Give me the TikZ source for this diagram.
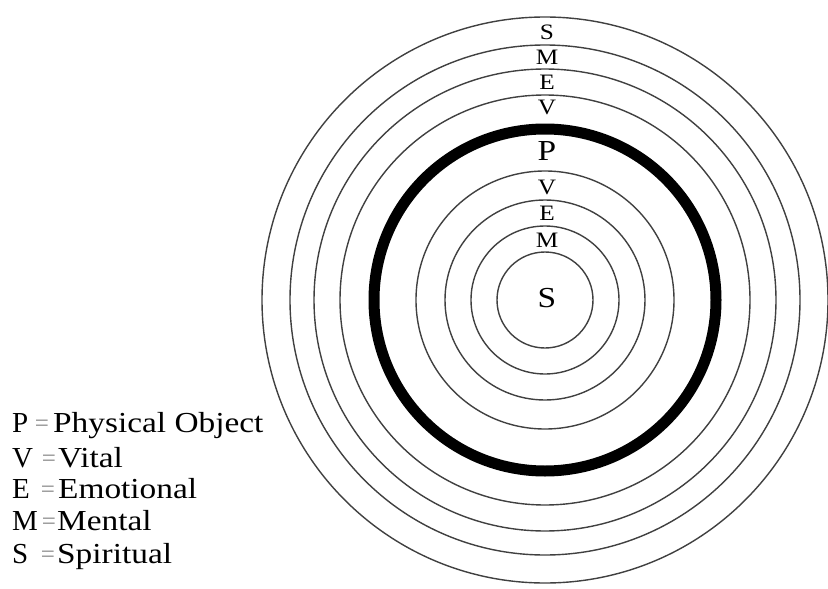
\documentclass[tikz,border=0pt]{standalone}
\usepackage{fontspec}
\setmainfont{Liberation Serif}
\newfontfamily\widefont[FakeStretch=1.15]{Liberation Serif}
\begin{document}
\begin{tikzpicture}[x=1pt,y=-1pt,
  ring/.style={draw=black!75,line width=1.4pt},
  bigring/.style={draw=black,line width=11pt},
  rlabel/.style={inner sep=0pt,font=\widefont\fontsize{22}{24}\selectfont},
  blabel/.style={inner sep=0pt,font=\widefont\fontsize{29}{32}\selectfont},
  letter/.style={inner sep=0pt,anchor=base west,font=\fontsize{29}{32}\selectfont},
  legend/.style={inner sep=0pt,anchor=base west,font=\widefont\fontsize{29}{32}\selectfont},
  eqsign/.style={inner sep=0pt,anchor=base,text=black!45,font=\fontsize{25}{32}\selectfont}]
\useasboundingbox (0,0) rectangle (828,589);
\coordinate (c) at (545,300);
% rings
\foreach \r in {48,74,100,129,205,231,255,283} {\draw[ring] (c) circle (\r);}
\draw[bigring] (c) circle (171);
% ring labels
\node[rlabel] (so) at (547,32) {S};
\node[rlabel] (mo) at (547,57) {M};
\node[rlabel] (eo) at (547,82) {E};
\node[rlabel] (vo) at (547,107) {V};
\node[blabel] (p) at (547,151) {P};
\node[rlabel] (vi) at (547,187) {V};
\node[rlabel] (ei) at (547,213) {E};
\node[rlabel] (mi) at (547,240) {M};
\node[blabel] (si) at (547,298) {S};
% legend
\node[letter] (lp) at (12,432) {P};
\node[eqsign] (qp) at (42,431) {=};
\node[legend] (tp) at (53,432) {Physical Object};
\node[letter] (lv) at (12,467) {V};
\node[eqsign] (qv) at (49,466) {=};
\node[legend] (tv) at (58,467) {Vital};
\node[letter] (le) at (12,498) {E};
\node[eqsign] (qe) at (48,497) {=};
\node[legend] (te) at (58,498) {Emotional};
\node[letter] (lm) at (12,530) {M};
\node[eqsign] (qm) at (49,529) {=};
\node[legend] (tm) at (57,530) {Mental};
\node[letter] (ls) at (12,563) {S};
\node[eqsign] (qs) at (48,562) {=};
\node[legend] (ts) at (57,563) {Spiritual};
\end{tikzpicture}
\end{document}
